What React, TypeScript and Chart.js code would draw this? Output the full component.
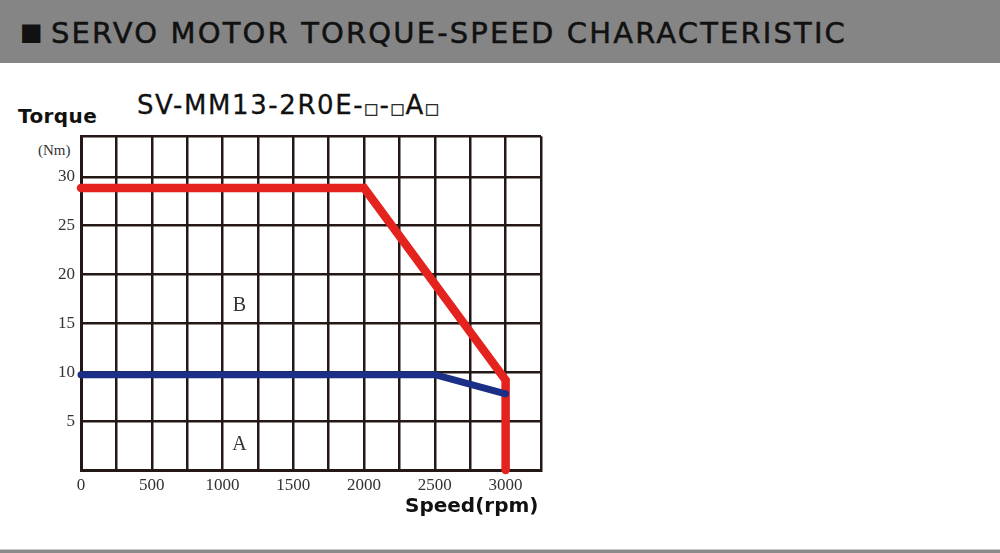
import React, { useEffect, useRef } from "react";
import { Chart, registerables } from "chart.js";

Chart.register(...registerables);

const HEADER_MARK = "■";
const HEADER = "SERVO MOTOR TORQUE-SPEED CHARACTERISTIC";
const MODEL_MAIN = "SV-MM13-2R0E-";
const Y_TITLE = "Torque";
const Y_UNIT = "(Nm)";
const X_TITLE = "Speed(rpm)";

// Curve B (peak torque) – red
const peakSpeed = [0, 2000, 3000, 3000];
const peakTorque = [28.85, 28.85, 9.2, 0];
// Curve A (rated torque) – blue
const ratedSpeed = [0, 2500, 3000];
const ratedTorque = [9.75, 9.75, 7.8];

// Region labels
const regionNames = ["B", "A"];
const regionSpeed = [1120, 1120];
const regionTorque = [16.8, 2.6];

const X_MAX = 3250;
const Y_MAX = 34.15;
const xTickValues = [0, 250, 500, 750, 1000, 1250, 1500, 1750, 2000, 2250, 2500, 2750, 3000, 3250];
const xLabelValues = [0, 500, 1000, 1500, 2000, 2500, 3000];
const yTickValues = [0, 5, 10, 15, 20, 25, 30, Y_MAX];
const yLabelValues = [5, 10, 15, 20, 25, 30];

const GRID = "#231815";

const regionLabelPlugin = {
  id: "regionLabels",
  afterDatasetsDraw(chart: any) {
    const { ctx, scales } = chart;
    ctx.save();
    ctx.fillStyle = "#333";
    ctx.font = "20px 'Liberation Serif'";
    ctx.textAlign = "center";
    ctx.textBaseline = "middle";
    regionNames.forEach((n, i) => {
      ctx.fillText(n, scales.x.getPixelForValue(regionSpeed[i]), scales.y.getPixelForValue(regionTorque[i]));
    });
    ctx.restore();
  },
};

function TorqueChart() {
  const ref = useRef<HTMLCanvasElement>(null);
  useEffect(() => {
    if (!ref.current) return;
    const chart = new Chart(ref.current, {
      type: "line",
      data: {
        datasets: [
          {
            label: "A",
            data: ratedSpeed.map((x, i) => ({ x, y: ratedTorque[i] })),
            borderColor: "#1b2f86",
            borderWidth: 7,
            pointRadius: 0,
            borderCapStyle: "round",
            borderJoinStyle: "miter",
            clip: false as any,
          },
          {
            label: "B",
            data: peakSpeed.map((x, i) => ({ x, y: peakTorque[i] })),
            borderColor: "#e4231f",
            borderWidth: 8.5,
            pointRadius: 0,
            borderCapStyle: "round",
            borderJoinStyle: "miter",
            clip: false as any,
          },
        ],
      },
      options: {
        animation: false,
        responsive: false,
        maintainAspectRatio: false,
        layout: { padding: { top: 13, right: 19, left: 0, bottom: 0 } },
        plugins: { legend: { display: false }, tooltip: { enabled: false } },
        scales: {
          x: {
            type: "linear",
            min: 0,
            max: X_MAX,
            afterBuildTicks: (s: any) => {
              s.ticks = xTickValues.map((v) => ({ value: v }));
            },
            afterFit: (s: any) => {
              s.height = 70;
            },
            ticks: {
              autoSkip: false,
              maxRotation: 0,
              padding: 5,
              color: "#333",
              font: { family: "'Liberation Serif'", size: 17 },
              callback: (v: any) => (xLabelValues.includes(Number(v)) ? String(v) : ""),
            },
            grid: { color: GRID, lineWidth: 2.5, drawTicks: false },
            border: { color: GRID, width: 3 },
          },
          y: {
            type: "linear",
            min: 0,
            max: Y_MAX,
            afterBuildTicks: (s: any) => {
              s.ticks = yTickValues.map((v) => ({ value: v }));
            },
            afterFit: (s: any) => {
              s.width = 81;
            },
            ticks: {
              autoSkip: false,
              padding: 6,
              color: "#333",
              font: { family: "'Liberation Serif'", size: 17 },
              callback: (v: any) => (yLabelValues.includes(Number(v)) ? String(v) : ""),
            },
            grid: { color: GRID, lineWidth: 2.5, drawTicks: false },
            border: { color: GRID, width: 3 },
          },
        },
      },
      plugins: [regionLabelPlugin],
    });
    return () => chart.destroy();
  }, []);
  return (
    <canvas
      ref={ref}
      width={560}
      height={420}
      style={{ position: "absolute", left: 0, top: 120, width: 560, height: 420 }}
    />
  );
}

export default function App() {
  const box = { fontSize: 15, verticalAlign: "baseline" as const, letterSpacing: 1 };
  return (
    <div
      style={{
        position: "fixed",
        left: 0,
        top: 0,
        width: 1000,
        height: 553,
        background: "#fff",
        overflow: "hidden",
        fontFamily: "'DejaVu Sans', sans-serif",
      }}
    >
      <div
        style={{
          position: "absolute",
          left: 0,
          top: 0,
          width: 1000,
          height: 63,
          background: "#858585",
        }}
      >
        <div
          style={{
            position: "absolute",
            left: 20,
            top: 12,
            fontSize: 24,
            lineHeight: "40px",
            color: "#111",
          }}
        >
          {HEADER_MARK}
        </div>
        <div
          style={{
            position: "absolute",
            left: 51,
            top: 13,
            fontSize: 29,
            lineHeight: "40px",
            color: "#111",
            whiteSpace: "nowrap",
            letterSpacing: 2.15,
            WebkitTextStroke: "0.5px #111",
          }}
        >
          {HEADER}
        </div>
      </div>
      <div
        style={{
          position: "absolute",
          left: 137,
          top: 89,
          fontSize: 26,
          lineHeight: "32px",
          color: "#111",
          whiteSpace: "nowrap",
          letterSpacing: 1.6,
          WebkitTextStroke: "0.3px #111",
        }}
      >
        {MODEL_MAIN}
        <span style={box}>□</span>-<span style={box}>□</span>A<span style={box}>□</span>
      </div>
      <div
        style={{
          position: "absolute",
          left: 18,
          top: 104,
          fontSize: 20,
          lineHeight: "24px",
          color: "#111",
          fontWeight: "bold",
          letterSpacing: 0.4,
        }}
      >
        {Y_TITLE}
      </div>
      <div
        style={{
          position: "absolute",
          left: 38,
          top: 140,
          fontSize: 15,
          lineHeight: "20px",
          color: "#333",
          fontFamily: "'Liberation Serif', serif",
        }}
      >
        {Y_UNIT}
      </div>
      <TorqueChart />
      <div
        style={{
          position: "absolute",
          left: 405,
          top: 492,
          fontSize: 20,
          lineHeight: "26px",
          color: "#111",
          whiteSpace: "nowrap",
          fontWeight: "bold",
        }}
      >
        {X_TITLE}
      </div>
      <div
        style={{
          position: "absolute",
          left: 0,
          top: 549,
          width: 1000,
          height: 4,
          background: "#8a8a8a",
          borderTop: "1px solid #c8c8c8",
        }}
      />
    </div>
  );
}
